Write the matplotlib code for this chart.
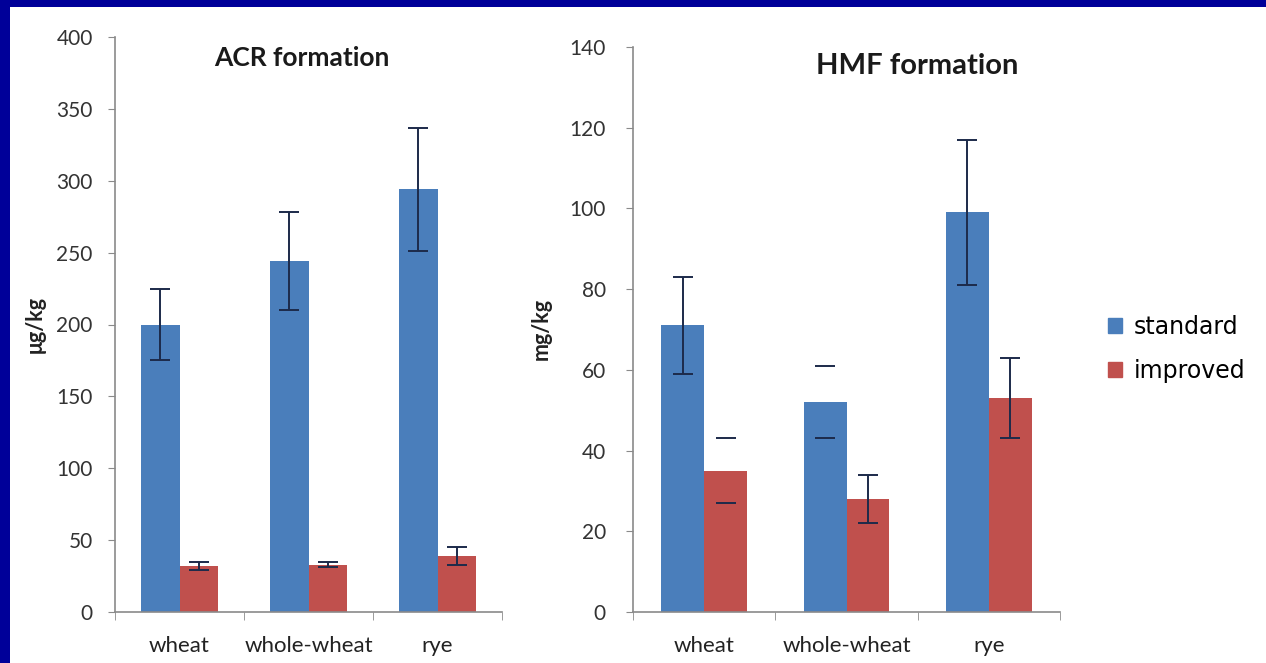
import numpy as np
import matplotlib
matplotlib.use("Agg")
import matplotlib.pyplot as plt
from matplotlib.patches import Rectangle

plt.rcParams['font.family'] = ['Lato', 'DejaVu Sans']

categories = ['wheat', 'whole-wheat', 'rye']
series = ['standard', 'improved']

acr_standard = [200, 244, 294]
acr_standard_err = [25, 34, 43]
acr_improved = [32, 33, 39]
acr_improved_err = [3, 2, 6]

hmf_standard = [71, 52, 99]
hmf_standard_err = [12, 9, 18]
hmf_improved = [35, 28, 53]
hmf_improved_err = [8, 6, 10]

blue = '#4a7ebb'
red = '#c0504d'
errc = '#1c2a4a'
axc = '#8a8a8a'

W, H = 1266, 663
fig = plt.figure(figsize=(W / 100, H / 100), dpi=100)
fig.patch.set_facecolor('#000099')
fig.patches.append(Rectangle((10 / W, 0), 1, (H - 7) / H, transform=fig.transFigure,
                             facecolor='white', edgecolor='none', zorder=-10))


def draw(ax, std, std_err, imp, imp_err, w, ymax, ystep, ylabel, ypad, hide_std=None, hide_imp=None):
    x = np.arange(len(categories))
    ax.bar(x - w / 2, std, w, color=blue, zorder=2)
    ax.bar(x + w / 2, imp, w, color=red, zorder=2)
    # error bars; a few in the source only show their caps
    for xs, v, e, hide in [(x - w / 2, std, std_err, hide_std), (x + w / 2, imp, imp_err, hide_imp)]:
        _, _, bars = ax.errorbar(xs, v, yerr=e, fmt='none', ecolor=errc, elinewidth=1.4,
                                 capsize=7, capthick=1.4, zorder=3)
        if hide is not None:
            cols = [errc if i != hide else 'none' for i in range(len(v))]
            bars[0].set_color(cols)
    ax.set_xlim(-0.5, len(categories) - 0.5)
    ax.set_ylim(0, ymax)
    ax.set_yticks(np.arange(0, ymax + 1, ystep))
    ax.set_xticks(x)
    ax.set_xticklabels(categories)
    ax.set_xticks(np.arange(-0.5, len(categories), 1), minor=True)
    ax.tick_params(axis='x', which='major', length=0, pad=17, labelsize=16, colors='#222222')
    ax.tick_params(axis='x', which='minor', length=6, color=axc)
    ax.tick_params(axis='y', length=5, color=axc, pad=ypad, labelsize=15, labelcolor='#333333')
    ax.patch.set_alpha(0)
    for s in ['top', 'right']:
        ax.spines[s].set_visible(False)
    for s in ['left', 'bottom']:
        ax.spines[s].set_color(axc)
        ax.spines[s].set_linewidth(1.2)
    ax.set_ylabel(ylabel, fontsize=15.5, fontweight='bold', color='#222222')


ax1 = fig.add_axes([115 / W, 51 / H, 387 / W, 575 / H])
draw(ax1, acr_standard, acr_standard_err, acr_improved, acr_improved_err, 0.295, 400, 50,
     'μg/kg', 11)
ax1.yaxis.set_label_coords(-0.18, 0.5)

ax2 = fig.add_axes([633 / W, 51 / H, 427 / W, 565 / H])
draw(ax2, hmf_standard, hmf_standard_err, hmf_improved, hmf_improved_err, 0.30, 140, 20,
     'mg/kg', 14.5, hide_std=1, hide_imp=0)
ax2.yaxis.set_label_coords(-0.19, 0.5)

fig.text(302 / W, 1 - 58 / H, 'ACR formation', ha='center', va='center',
         fontsize=19, fontweight='bold', color='#1a1a1a')
fig.text(917 / W, 1 - 66 / H, 'HMF formation', ha='center', va='center',
         fontsize=21, fontweight='bold', color='#1a1a1a')

handles = [Rectangle((0, 0), 1, 1, color=blue), Rectangle((0, 0), 1, 1, color=red)]
fig.legend(handles, series, loc='center left', bbox_to_anchor=(1108 / W, 1 - 349 / H),
           frameon=False, prop={'family': 'DejaVu Sans', 'size': 17},
           handlelength=0.6, handleheight=0.6, handletextpad=0.5, labelspacing=0.85,
           borderpad=0, borderaxespad=0)

fig.savefig('out.png', dpi=100, facecolor=fig.get_facecolor())
